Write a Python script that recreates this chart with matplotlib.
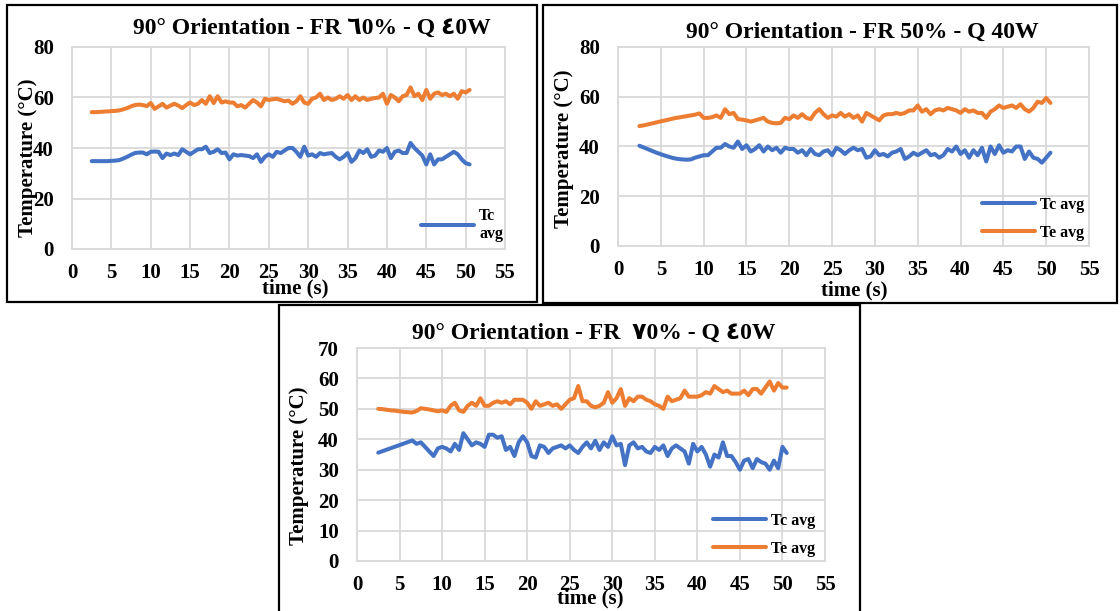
import numpy as np
import matplotlib
matplotlib.use("Agg")
import matplotlib.pyplot as plt
from matplotlib.patches import Rectangle

# ---- data ----
time = np.arange(2.5, 50.6, 0.5)

p1_te = [54.2, 54.2, 54.3, 54.4, 54.5, 54.6, 54.7, 54.9, 55.3, 55.8,
         56.5, 57.0, 57.2, 57.0, 56.6, 57.8, 55.5, 56.5, 57.5, 56.0,
         56.8, 57.5, 56.8, 55.8, 57.0, 58.0, 57.0, 57.5, 59.0, 57.5,
         60.5, 57.8, 60.5, 58.0, 58.5, 58.0, 58.0, 56.5, 57.0, 56.0,
         57.5, 59.0, 58.0, 56.5, 59.5, 59.0, 59.3, 59.5, 59.0, 58.5,
         58.8, 57.5, 58.5, 60.5, 58.0, 57.5, 59.5, 60.0, 61.5, 59.0,
         60.0, 59.0, 59.5, 60.5, 59.5, 61.0, 59.0, 60.5, 59.0, 60.0,
         59.0, 59.5, 59.8, 60.0, 61.5, 57.5, 61.0, 60.0, 58.5, 60.5,
         61.0, 64.0, 60.5, 61.5, 59.0, 63.0, 59.5, 61.5, 62.0, 61.0,
         61.5, 60.5, 61.5, 59.5, 62.5, 62.0, 63.0]
p1_tc = [34.8, 34.8, 34.8, 34.8, 34.8, 34.9, 35.0, 35.2, 35.8, 36.5,
         37.3, 38.0, 38.2, 38.2, 37.5, 38.5, 38.6, 38.5, 36.0, 37.8,
         37.2, 37.8, 37.2, 39.5, 38.5, 37.5, 38.5, 39.5, 39.5, 40.5,
         38.0, 38.5, 39.5, 38.0, 38.2, 35.5, 37.5, 37.0, 37.2, 37.0,
         36.8, 36.0, 37.5, 34.5, 36.5, 37.5, 36.5, 38.5, 38.0, 39.0,
         40.0, 40.0, 38.5, 36.5, 40.5, 37.0, 37.5, 36.5, 38.0, 37.5,
         37.8, 38.0, 36.5, 35.5, 36.5, 38.0, 34.5, 36.0, 39.0, 38.0,
         39.5, 36.5, 37.0, 39.0, 38.5, 40.0, 36.0, 38.5, 39.0, 38.0,
         38.0, 42.0, 40.0, 38.5, 37.0, 33.5, 37.5, 33.5, 35.5, 35.5,
         36.5, 37.5, 38.5, 37.5, 35.5, 34.0, 33.5]

p2_te = [48.2, 48.5, 48.9, 49.3, 49.7, 50.1, 50.5, 50.9, 51.3, 51.6,
         51.9, 52.2, 52.5, 52.8, 53.3, 51.5, 51.5, 51.8, 52.5, 51.5,
         55.0, 53.0, 53.5, 51.0, 50.8, 50.5, 50.0, 50.5, 51.0, 51.5,
         50.0, 49.5, 49.3, 49.5, 51.5, 51.0, 52.5, 51.5, 53.0, 51.5,
         51.0, 53.5, 55.0, 53.0, 51.5, 52.5, 52.0, 53.5, 52.0, 53.0,
         51.5, 52.5, 50.0, 53.5, 52.5, 51.5, 50.5, 52.5, 53.0, 53.0,
         53.5, 53.0, 53.5, 54.5, 54.5, 56.5, 54.0, 55.0, 53.0, 54.5,
         55.0, 54.5, 55.5, 55.0, 54.5, 53.5, 55.0, 54.0, 54.5, 53.5,
         53.5, 51.5, 54.0, 55.0, 56.5, 55.5, 56.0, 56.5, 55.5, 57.0,
         55.0, 54.0, 55.5, 58.0, 57.5, 59.5, 57.5]
p2_tc = [40.3, 39.6, 38.9, 38.2, 37.5, 36.9, 36.3, 35.8, 35.3, 35.0,
         34.8, 34.7, 34.8, 35.5, 36.0, 36.5, 36.5, 38.0, 39.5, 39.5,
         41.0, 40.0, 39.5, 42.0, 39.0, 40.5, 38.0, 39.0, 40.5, 38.0,
         40.0, 38.5, 39.5, 37.5, 39.5, 39.0, 39.0, 37.5, 38.5, 36.5,
         39.0, 37.0, 36.5, 38.0, 38.5, 36.5, 39.5, 38.5, 37.0, 38.5,
         39.5, 38.5, 39.0, 35.5, 36.0, 38.5, 36.5, 37.0, 36.0, 37.5,
         38.0, 39.0, 35.0, 36.0, 37.5, 36.5, 37.5, 38.5, 36.5, 37.0,
         35.5, 36.5, 39.0, 38.0, 40.0, 37.0, 38.5, 35.5, 38.5, 36.5,
         39.5, 34.0, 40.0, 37.0, 40.5, 37.5, 38.5, 38.0, 40.0, 40.0,
         35.0, 38.0, 35.5, 35.0, 33.5, 35.5, 37.5]

p3_te = [50.0, 49.9, 49.7, 49.5, 49.4, 49.2, 49.0, 48.9, 48.8, 49.3,
         50.2, 50.0, 49.8, 49.5, 49.2, 49.5, 49.0, 51.0, 52.0, 49.5,
         49.0, 51.0, 52.0, 51.0, 53.5, 51.0, 51.0, 52.0, 52.5, 52.0,
         52.5, 51.5, 53.0, 53.0, 53.0, 52.0, 50.0, 52.5, 51.0, 51.5,
         52.0, 51.0, 51.5, 50.0, 51.5, 53.0, 53.5, 57.5, 52.5, 52.5,
         51.0, 50.5, 51.0, 52.0, 55.5, 52.0, 53.5, 56.5, 51.0, 53.5,
         52.5, 54.0, 54.0, 53.0, 52.5, 51.5, 51.0, 50.0, 54.0, 52.5,
         53.0, 53.5, 56.0, 54.0, 54.0, 54.0, 54.5, 55.5, 55.0, 57.5,
         56.5, 55.5, 56.0, 55.0, 55.0, 55.0, 56.0, 54.5, 56.5, 56.5,
         55.0, 57.0, 59.0, 56.0, 58.5, 57.0, 57.0]
p3_tc = [35.6, 36.1, 36.6, 37.1, 37.6, 38.1, 38.6, 39.1, 39.6, 38.5,
         39.0, 37.5, 36.0, 34.5, 37.0, 37.5, 37.0, 36.0, 38.5, 36.5,
         42.0, 40.0, 38.0, 39.0, 38.5, 37.5, 41.5, 41.5, 40.5, 41.0,
         36.5, 37.5, 34.5, 39.0, 41.0, 39.0, 34.5, 34.0, 38.0, 37.5,
         35.5, 37.0, 37.5, 38.0, 37.0, 38.0, 36.5, 35.5, 37.5, 39.0,
         37.0, 39.5, 36.5, 39.0, 37.5, 41.0, 38.0, 38.5, 31.5, 38.0,
         39.0, 37.0, 37.5, 36.0, 35.5, 37.5, 36.5, 38.0, 34.5, 37.0,
         38.0, 37.0, 36.0, 32.0, 38.5, 36.0, 37.5, 35.0, 31.0, 35.0,
         34.0, 39.0, 34.5, 34.5, 32.5, 30.0, 33.0, 33.5, 30.5, 33.5,
         32.5, 32.0, 30.0, 33.0, 30.5, 37.5, 35.5]

titles = ["90° Orientation - FR ٦0% - Q ٤0W",
          "90° Orientation - FR 50% - Q 40W",
          "90° Orientation - FR  ٧0% - Q ٤0W"]

BLUE = "#4472C4"
ORANGE = "#ED7D31"
GRID = "#D9D9D9"
SERIF = ["Liberation Serif", "DejaVu Sans"]

W, H = 1120, 611
fig = plt.figure(figsize=(W / 100, H / 100), dpi=100)
fig.patch.set_facecolor("white")


def fx(px):
    return px / W


def fy(py):
    return 1 - py / H


def box(x0, y0, x1, y1):
    fig.patches.append(Rectangle((fx(x0), fy(y1)), fx(x1) - fx(x0), fy(y0) - fy(y1),
                                 transform=fig.transFigure, fill=False,
                                 edgecolor="black", lw=1.6, clip_on=False))


def panel(rect, te, tc, ymax, ystep, title, tpos, ylpos, xlpos, leg, te_in_legend=True, tc_label="Tc avg"):
    l, t, r, b = rect
    ax = fig.add_axes([fx(l), fy(b), fx(r) - fx(l), fy(t) - fy(b)])
    ax.plot(time, tc, color=BLUE, lw=2.9, label=tc_label,
            solid_capstyle="round", solid_joinstyle="round")
    ax.plot(time, te, color=ORANGE, lw=2.9, label="Te avg" if te_in_legend else "_nolegend_",
            solid_capstyle="round", solid_joinstyle="round")
    ax.set_xlim(0, 55)
    ax.set_ylim(0, ymax)
    ax.set_xticks(np.arange(0, 56, 5))
    ax.set_yticks(np.arange(0, ymax + 1, ystep))
    ax.grid(True, color=GRID, lw=1.3)
    ax.set_axisbelow(True)
    for s in ax.spines.values():
        s.set_color(GRID)
        s.set_linewidth(1.3)
    ax.tick_params(length=0, labelsize=15, pad=10)
    ax.tick_params(axis="y", pad=13)
    for lab in ax.get_xticklabels() + ax.get_yticklabels():
        lab.set_fontfamily(SERIF)
        lab.set_fontweight("bold")
    fig.text(fx(tpos[0]), fy(tpos[1]), title, ha="center", va="center",
             fontsize=17, fontweight="bold", family=SERIF)
    fig.text(fx(ylpos[0]), fy(ylpos[1]), "Temperature (°C)", ha="center", va="center",
             rotation=90, fontsize=15, fontweight="bold", family=SERIF)
    fig.text(fx(xlpos[0]), fy(xlpos[1]), "time (s)", ha="center", va="center",
             fontsize=15, fontweight="bold", family=SERIF)
    ax.legend(loc="center left", bbox_to_anchor=(fx(leg[0]), fy(leg[1])),
              bbox_transform=fig.transFigure, frameon=False, borderpad=0,
              borderaxespad=0, handlelength=3.3, handletextpad=0.35,
              labelspacing=0.75, prop={"family": SERIF, "weight": "bold", "size": 11.5})
    return ax


box(7, 5, 537, 302)
box(543, 5, 1117, 303)
box(279, 305, 860, 614)

panel((72, 47, 505, 249), p1_te, p1_tc, 80, 20, titles[0], (312, 28), (28, 158), (295, 288),
      (421, 225), te_in_legend=False, tc_label="Tc\navg")
panel((618, 47, 1089, 246), p2_te, p2_tc, 80, 20, titles[1], (862, 32), (564, 149), (854, 290),
      (982, 219))
panel((357, 348, 825, 561), p3_te, p3_tc, 70, 10, titles[2], (594, 333), (299, 466), (590, 598),
      (713, 535))

fig.savefig("out.png", dpi=100)
